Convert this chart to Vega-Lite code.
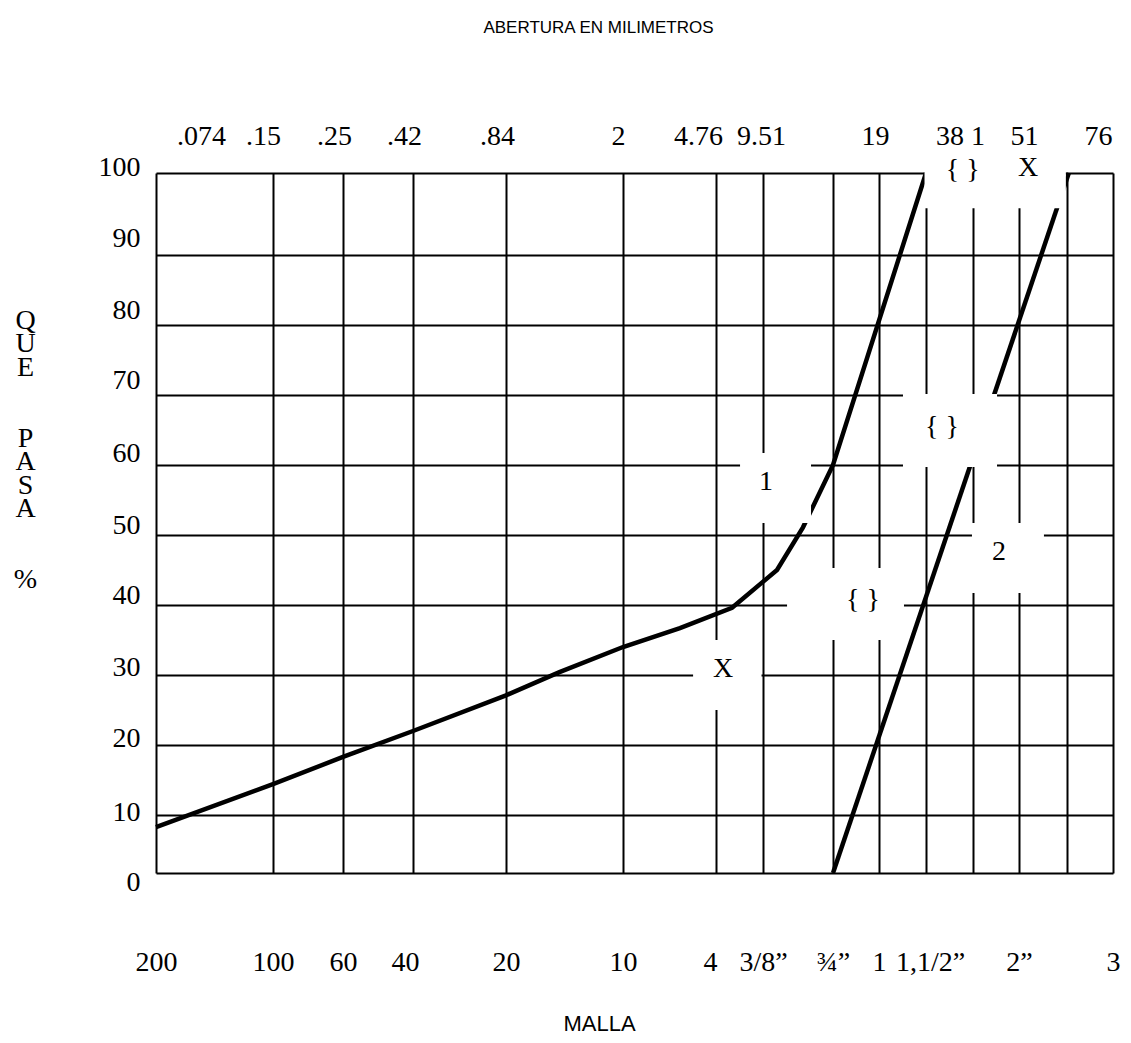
{
  "$schema": "https://vega.github.io/schema/vega-lite/v6.json",
  "width": 957,
  "height": 700,
  "autosize": "none",
  "padding": {"left": 156, "top": 173, "right": 18, "bottom": 170},
  "background": "white",
  "config": {"view": {"stroke": null}},
  "datasets": {
    "curvas": [
      {"serie": "1", "mm": 0.074, "pct": 7.9},
      {"serie": "1", "mm": 0.149, "pct": 14.4},
      {"serie": "1", "mm": 0.25, "pct": 18.3},
      {"serie": "1", "mm": 0.42, "pct": 22.0},
      {"serie": "1", "mm": 0.84, "pct": 27.1},
      {"serie": "1", "mm": 1.37, "pct": 30.4},
      {"serie": "1", "mm": 2.0, "pct": 34.0},
      {"serie": "1", "mm": 3.69, "pct": 36.7},
      {"serie": "1", "mm": 6.38, "pct": 39.6},
      {"serie": "1", "mm": 11.41, "pct": 45.0},
      {"serie": "1", "mm": 14.93, "pct": 51.1},
      {"serie": "1", "mm": 19.0, "pct": 60.0},
      {"serie": "1", "mm": 38.1, "pct": 100},
      {"serie": "2", "mm": 19.0, "pct": 0},
      {"serie": "2", "mm": 64.0, "pct": 100}
    ],
    "cuadros": [
      {"mm": 37.7, "mm2": 63.2, "pct": 95.7, "pct2": 105.1},
      {"mm": 7.19, "mm2": 16.02, "pct": 51.7, "pct2": 61.7},
      {"mm": 12.77, "mm2": 32.15, "pct": 35.0, "pct2": 45.3},
      {"mm": 31.88, "mm2": 47.79, "pct": 59.71, "pct2": 70.14},
      {"mm": 44.36, "mm2": 57.4, "pct": 41.7, "pct2": 51.7},
      {"mm": 4.08, "mm2": 9.36, "pct": 25.0, "pct2": 35.0}
    ],
    "notas": [
      {"mm": 43.1, "pct": 100.4, "label": "{ }"},
      {"mm": 53.2, "pct": 100.6, "label": "X"},
      {"mm": 9.92, "pct": 57.6, "label": "1"},
      {"mm": 23.17, "pct": 40.7, "label": "{ }"},
      {"mm": 40.28, "pct": 65.4, "label": "{ }"},
      {"mm": 48.06, "pct": 47.6, "label": "2"},
      {"mm": 5.47, "pct": 30.9, "label": "X"}
    ]
  },
  "encoding": {
    "y": {
      "field": "pct",
      "type": "quantitative",
      "scale": {
        "domain": [0, 10, 90, 100],
        "range": [700, 642, 82, 0],
        "nice": false,
        "zero": false
      },
      "axis": {
        "values": [0, 10, 20, 30, 40, 50, 60, 70, 80, 90, 100],
        "labelOffset": {"expr": "[9,-3,-7,-8,-10,-10,-12,-15,-15,-17,-6][round(datum.value/10)]"},
        "grid": true,
        "gridColor": "black",
        "gridWidth": 2,
        "gridOpacity": 1,
        "domain": false,
        "ticks": false,
        "labelFont": "Liberation Serif",
        "labelFontSize": 28,
        "labelColor": "black",
        "labelPadding": 16,
        "labelAlign": "right",
        "labelBaseline": "middle",
        "labelFlush": false,
        "labelOverlap": false,
        "labelBound": false,
        "title": ["Q", "U", "E", "\u200b", "\u200b", "P", "A", "S", "A", "\u200b", "\u200b", "%"],
        "titleFont": "Liberation Serif",
        "titleFontSize": 28,
        "titleFontWeight": "normal",
        "titleColor": "black",
        "titleAngle": 0,
        "titleX": -131,
        "titleY": 147,
        "titleAlign": "center",
        "titleBaseline": "middle",
        "titleLineHeight": 23.6,
        "zindex": 0
      }
    }
  },
  "resolve": {"axis": {"x": "independent"}},
  "layer": [
    {
      "data": {"name": "curvas"},
      "mark": {"type": "line", "color": "black", "strokeWidth": 4.5},
      "encoding": {
        "x": {
          "field": "mm",
          "type": "quantitative",
          "scale": {
            "domain": [0.074, 0.149, 0.25, 0.42, 0.84, 2.0, 4.76, 9.51, 19.0, 25.4, 38.1, 44.5, 50.8, 63.5, 76.2],
            "range": [0, 117, 187, 257, 350, 467, 560, 607, 677, 723, 770, 817, 863, 911, 957],
            "nice": false,
            "zero": false
          },
          "axis": {
            "orient": "bottom",
            "values": [0.074, 0.149, 0.25, 0.42, 0.84, 2.0, 4.76, 9.51, 19.0, 25.4, 38.1, 44.5, 50.8, 63.5, 76.2],
            "labelExpr": "datum.value == 0.074 ? '200' : datum.value == 0.149 ? '100' : datum.value == 0.25 ? '60' : datum.value == 0.42 ? '40' : datum.value == 0.84 ? '20' : datum.value == 2 ? '10' : datum.value == 4.76 ? '4' : datum.value == 9.51 ? '3/8”' : datum.value == 19 ? '¾”' : datum.value == 25.4 ? '1' : datum.value == 38.1 ? '1,1/2”' : datum.value == 50.8 ? '2”' : datum.value == 76.2 ? '3' : ''",
            "labelOffset": {"expr": "datum.value == 0.42 ? -8 : datum.value == 4.76 ? -6 : datum.value == 38.1 ? 4 : 0"},
            "grid": true,
            "gridColor": "black",
            "gridWidth": 2,
            "gridOpacity": 1,
            "domain": false,
            "ticks": false,
            "labelFont": "Liberation Serif",
            "labelFontSize": 28,
            "labelColor": "black",
            "labelPadding": 89,
            "labelBaseline": "middle",
            "labelFlush": false,
            "labelOverlap": false,
            "labelBound": false,
            "title": "MALLA",
            "titleFont": "Liberation Sans",
            "titleFontSize": 22,
            "titleFontWeight": "normal",
            "titleColor": "black",
            "titleX": 443,
            "titleY": 150,
            "titleAlign": "center",
            "titleBaseline": "middle",
            "zindex": 0
          }
        },
        "detail": {"field": "serie", "type": "nominal"}
      }
    },
    {
      "data": {"name": "cuadros"},
      "mark": {"type": "rect", "color": "white", "opacity": 1, "strokeWidth": 0},
      "encoding": {
        "x": {
          "field": "mm",
          "type": "quantitative",
          "scale": {
            "domain": [0.074, 0.149, 0.25, 0.42, 0.84, 2.0, 4.76, 9.51, 19.0, 25.4, 38.1, 44.5, 50.8, 63.5, 76.2],
            "range": [0, 117, 187, 257, 350, 467, 560, 607, 677, 723, 770, 817, 863, 911, 957],
            "nice": false,
            "zero": false
          },
          "axis": null
        },
        "x2": {"field": "mm2"},
        "y2": {"field": "pct2"}
      }
    },
    {
      "data": {"name": "notas"},
      "mark": {"type": "text", "font": "Liberation Serif", "fontSize": 28, "color": "black", "baseline": "middle", "align": "center"},
      "encoding": {
        "x": {
          "field": "mm",
          "type": "quantitative",
          "scale": {
            "domain": [0.074, 0.149, 0.25, 0.42, 0.84, 2.0, 4.76, 9.51, 19.0, 25.4, 38.1, 44.5, 50.8, 63.5, 76.2],
            "range": [0, 117, 187, 257, 350, 467, 560, 607, 677, 723, 770, 817, 863, 911, 957],
            "nice": false,
            "zero": false
          },
          "axis": {
            "orient": "top",
            "values": [0.1029, 0.1426, 0.237, 0.398, 0.799, 1.95, 4.226, 9.31, 24.84, 42.73, 52.12, 72.06],
            "labelExpr": "datum.value == 0.1029 ? '.074' : datum.value == 0.1426 ? '.15' : datum.value == 0.237 ? '.25' : datum.value == 0.398 ? '.42' : datum.value == 0.799 ? '.84' : datum.value == 1.95 ? '2' : datum.value == 4.226 ? '4.76' : datum.value == 9.31 ? '9.51' : datum.value == 24.84 ? '19' : datum.value == 42.73 ? '38 1' : datum.value == 52.12 ? '51' : datum.value == 72.06 ? '76' : ''",
            "grid": false,
            "domain": false,
            "ticks": false,
            "labelFont": "Liberation Serif",
            "labelFontSize": 28,
            "labelColor": "black",
            "labelPadding": 37,
            "labelBaseline": "middle",
            "labelFlush": false,
            "labelOverlap": false,
            "labelBound": false,
            "title": "ABERTURA EN MILIMETROS",
            "titleFont": "Liberation Sans",
            "titleFontSize": 17,
            "titleFontWeight": "normal",
            "titleColor": "black",
            "titleX": 442,
            "titleY": -146,
            "titleAlign": "center",
            "titleBaseline": "middle",
            "zindex": 1
          }
        },
        "text": {"field": "label", "type": "nominal"}
      }
    }
  ]
}
